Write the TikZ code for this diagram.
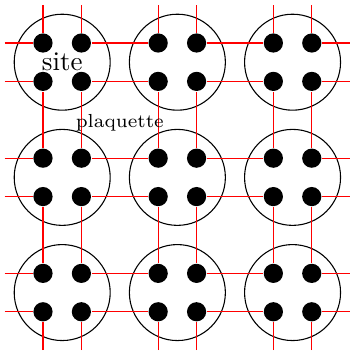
\documentclass[tikz,border=0pt]{standalone}
\usepackage{amsmath}
\usepackage{tikz}
\usetikzlibrary{positioning}

\begin{document}
\begin{tikzpicture}[x=0.5cm,y=0.5cm,
  dot/.style={circle,fill=black,inner sep=0pt,minimum size=0.25cm},
  sitecirc/.style={circle,draw,inner sep=0pt,minimum size=1.25cm},
  bond/.style={draw=red}]
\useasboundingbox (-4.62,-4.55) rectangle (4.6,4.62);
% sites
\foreach \i/\x in {1/-3,2/0,3/3}
  \foreach \j/\y in {1/-3,2/0,3/3}
    \node[sitecirc] (s\i\j) at (\x,\y) {};
% dots
\foreach \c/\x in {1/-3.5,2/-2.5,3/-0.5,4/0.5,5/2.5,6/3.5}
  \foreach \r/\y in {1/-3.5,2/-2.5,3/-0.5,4/0.5,5/2.5,6/3.5}
    \node[dot] (d\c\r) at (\x,\y) {};
% free ends
\foreach \k/\z in {1/-3.5,2/-2.5,3/-0.5,4/0.5,5/2.5,6/3.5}{
  \coordinate (l\k) at (-4.5,\z);
  \coordinate (r\k) at (4.5,\z);
  \coordinate (b\k) at (\z,-4.5);
  \coordinate (t\k) at (\z,4.5);
}
% bonds
\foreach \k in {1,...,6}
  \draw[bond] (l\k) -- (d1\k) (d2\k) -- (d3\k) (d4\k) -- (d5\k) (d6\k) -- (r\k)
              (b\k) -- (d\k1) (d\k2) -- (d\k3) (d\k4) -- (d\k5) (d\k6) -- (t\k);
\node (site) at (s13) {site};
\node[font=\scriptsize] (plaq) at (-1.5,1.42) {plaquette};
\end{tikzpicture}
\end{document}
